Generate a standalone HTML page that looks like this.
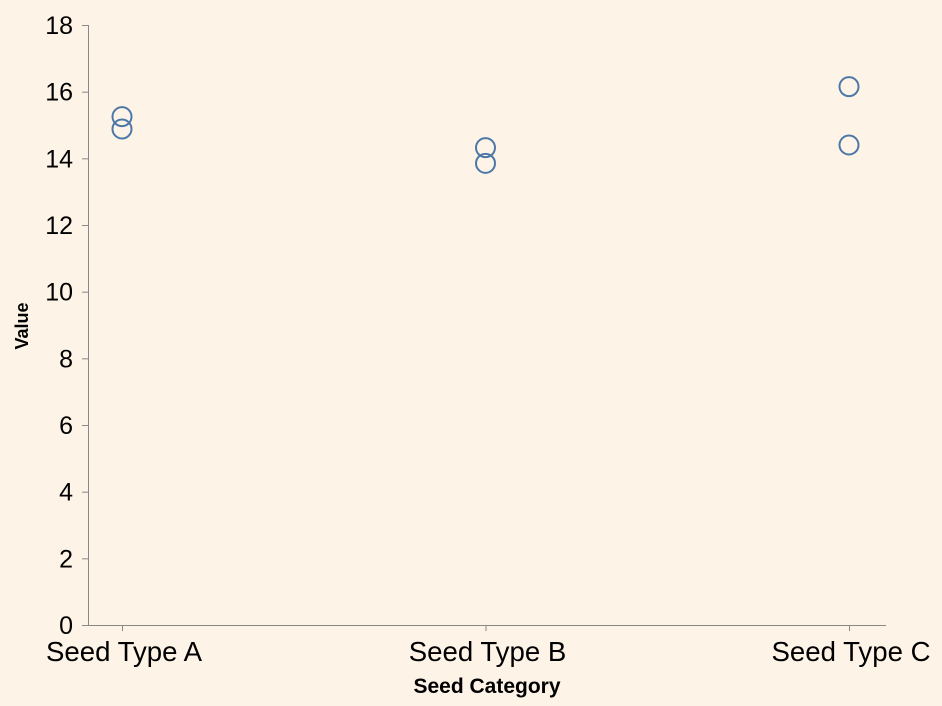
<!DOCTYPE html>
<html><head><meta charset="utf-8"><style>
html,body{margin:0;padding:0;background:#fdf3e6;}
svg{display:block;font-family:"Liberation Sans",Arial,sans-serif;}
</style></head><body>
<svg id="chart" width="942" height="706">
<rect width="942" height="706" fill="#fdf3e6"/>
<g id="axes"></g><g id="marks"></g>
<text x="487" y="693" text-anchor="middle" font-size="21" font-weight="bold" fill="#000">Seed Category</text>
<text transform="translate(28,326) rotate(-90)" text-anchor="middle" font-size="18" font-weight="bold" fill="#000">Value</text>
</svg>
<script>
const categories = ["Seed Type A","Seed Type A","Seed Type B","Seed Type B","Seed Type C","Seed Type C"];
const values = [15.25, 14.88, 14.32, 13.85, 16.15, 14.4];
const xCats = ["Seed Type A","Seed Type B","Seed Type C"];
const yTicks = [0,2,4,6,8,10,12,14,16,18];

const NS="http://www.w3.org/2000/svg";
const x0=88,x1=886,y0=625,y1=25;
function xs(c){const i=xCats.indexOf(c);return 122+i*363.5;}
function ys(v){return y0-(v-0)/(18-0)*(y0-y1);}
function mk(t,a,p){const e=document.createElementNS(NS,t);for(const k in a)e.setAttribute(k,a[k]);p.appendChild(e);return e;}
const ax=document.getElementById('axes'),mg=document.getElementById('marks');
let l=mk('line',{x1:x0,y1:y0+0.5,x2:x1,y2:y0+0.5,stroke:'#888','stroke-width':1},ax);


l=mk('line',{x1:x0+0.5,y1:y1,x2:x0+0.5,y2:y0,stroke:'#888','stroke-width':1},ax);


yTicks.forEach(v=>{
  const y=ys(v);
  const t=mk('line',{x1:x0-6,y1:y+0.5,x2:x0,y2:y+0.5,stroke:'#888'},ax);
  
  
  const tx=mk('text',{x:x0-15,y:y+9,'text-anchor':'end','font-size':'25',fill:'#000'},ax);
  tx.textContent=v;
  
  
});
xCats.forEach(c=>{
  const x=xs(c);
  const t=mk('line',{x1:x+0.5,y1:y0,x2:x+0.5,y2:y0+6,stroke:'#888'},ax);
  
  
  const tx=mk('text',{x:x+2,y:y0+36,'text-anchor':'middle','font-size':'27.6',fill:'#000'},ax);
  tx.textContent=c;
  
  
});
values.forEach((v,i)=>{
  const c=mk('circle',{cx:xs(categories[i]),cy:ys(v),r:9.5,fill:'none',stroke:'#4c78a8','stroke-width':2},mg);
  
  
});
</script>
</body></html>
